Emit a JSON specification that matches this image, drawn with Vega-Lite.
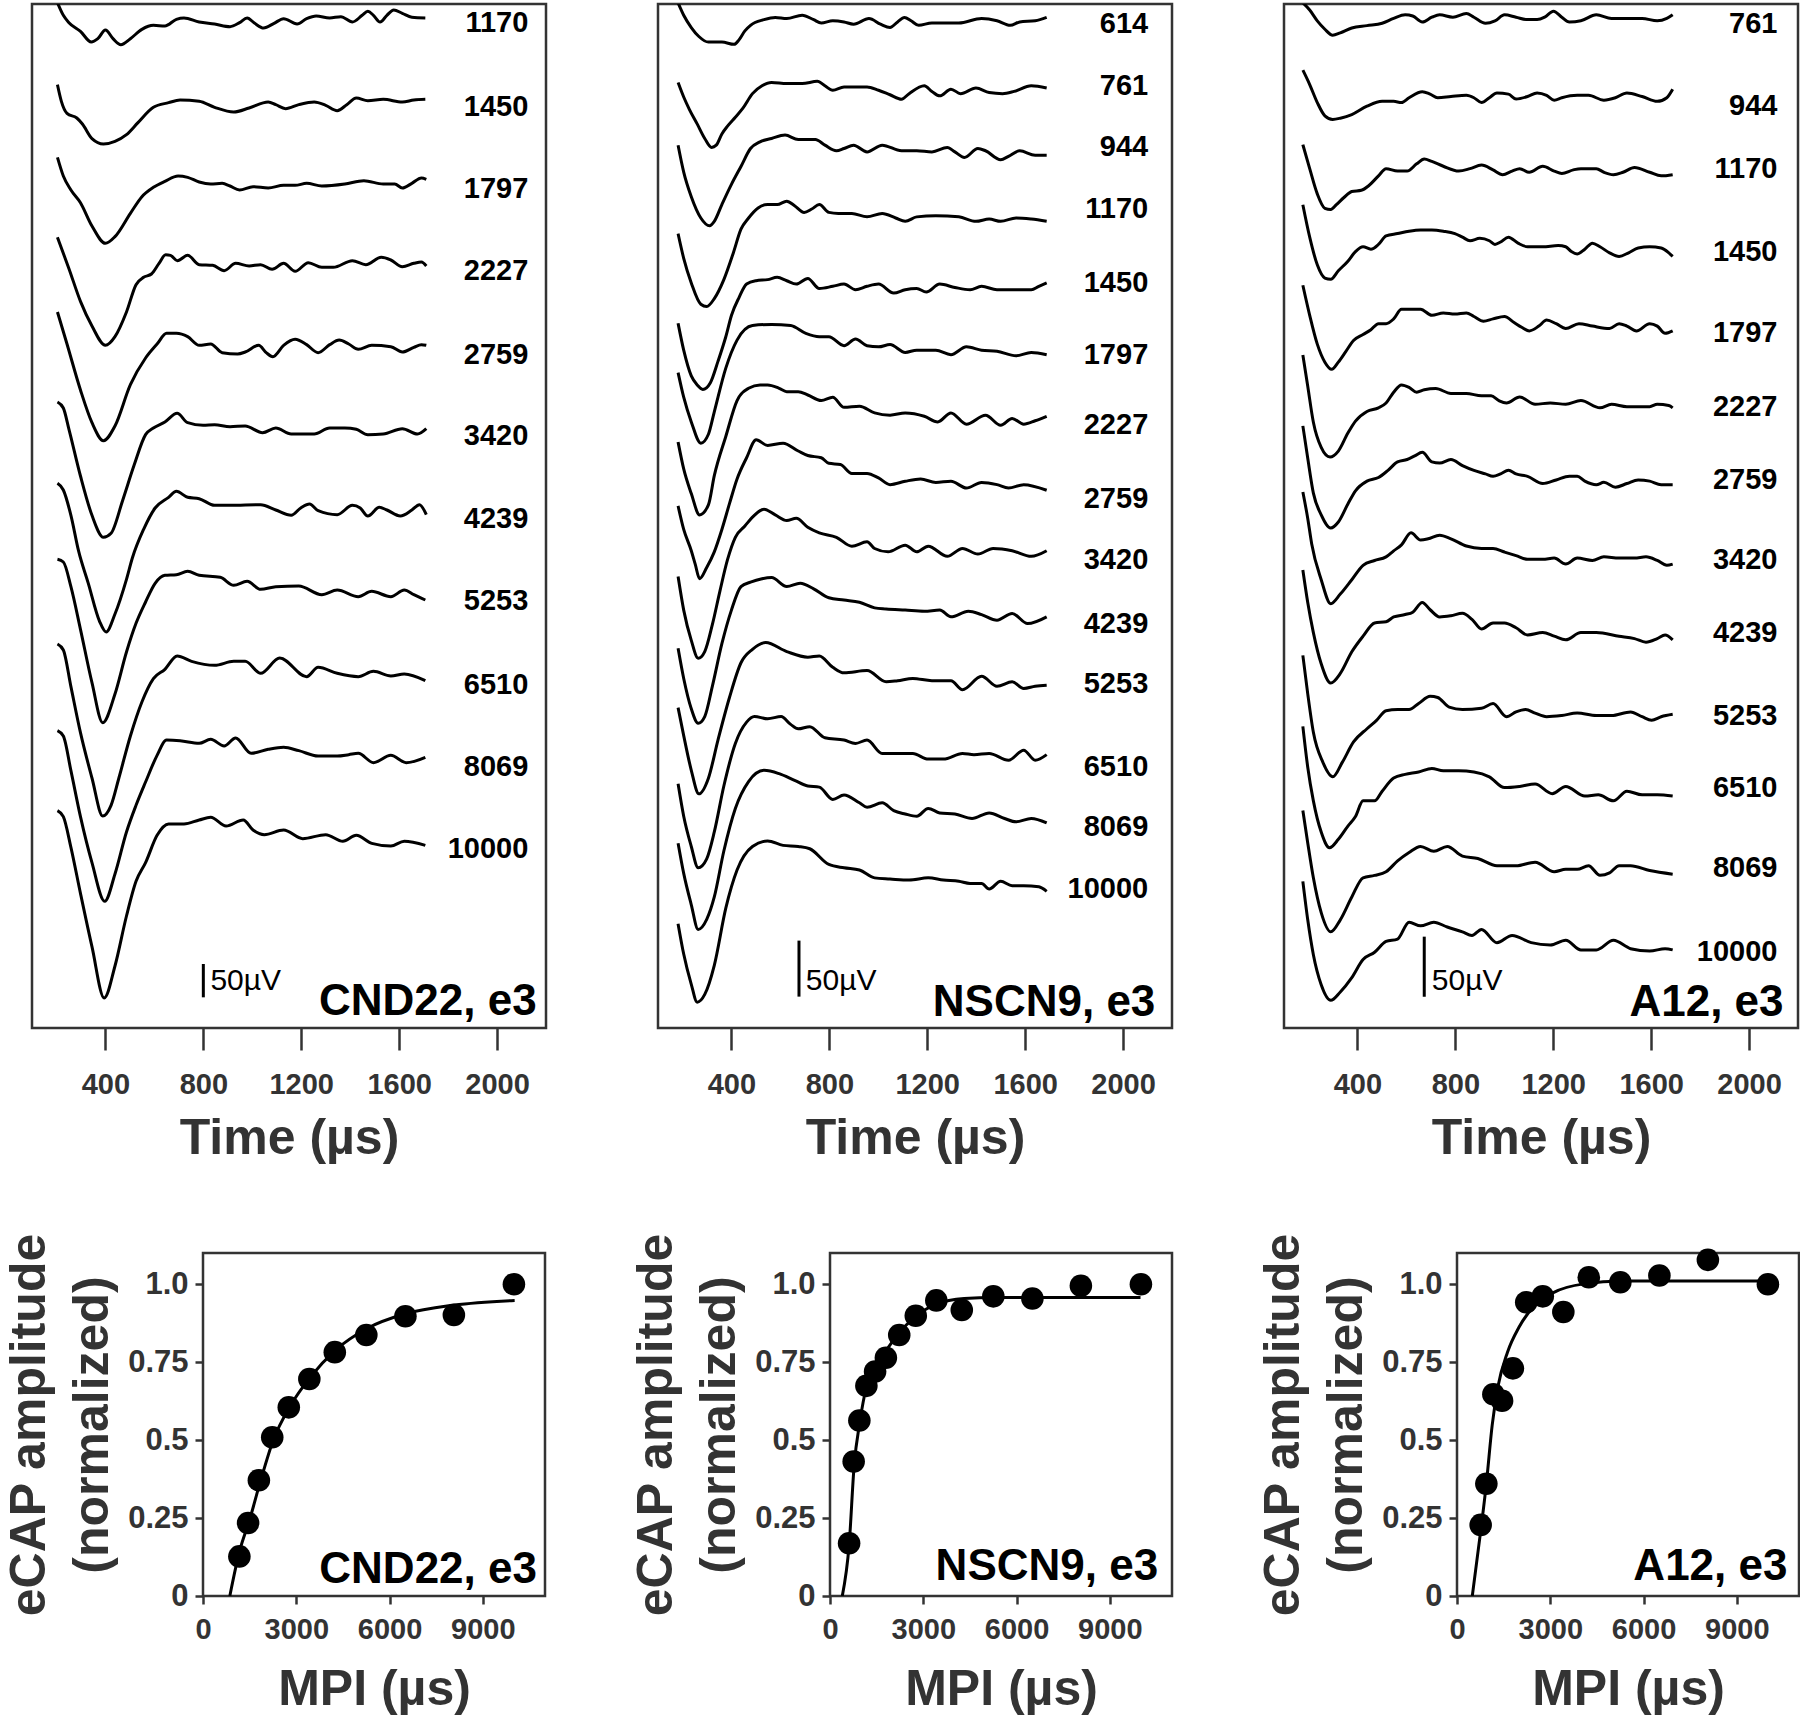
{
"$schema":"https://vega.github.io/schema/vega-lite/v6.json",
"background":"white",
"padding":{"left":3,"top":2,"right":0,"bottom":0},
"config":{
 "font":"Liberation Sans",
 "view":{"stroke":"#333333","strokeWidth":2.5},
 "axis":{"grid":false,"domain":false,"tickColor":"#333333","tickWidth":2.5,"labelColor":"#333333","labelFontWeight":"bold","labelFontSize":29,"labelFont":"Liberation Sans","titleColor":"#333333","titleFontWeight":"bold","titleFontSize":50,"titleFont":"Liberation Sans"}
},
"datasets":{
 "p1":[
  {"s":"1170","t":[204,228,251,298,342,369,400,431,463,502,549,596,643,690,721,783,846,909,948,979,1010,1046,1089,1128,1183,1222,1261,1316,1362,1409,1449,1472,1495,1522,1550,1578,1613,1652,1707],"v":[1538,1519,1508,1495,1479,1484,1497,1484,1475,1484,1498,1504,1503,1513,1515,1509,1506,1502,1508,1515,1507,1500,1507,1514,1506,1514,1518,1515,1517,1509,1519,1525,1519,1509,1519,1527,1522,1516,1515]},
  {"s":"1450","t":[204,220,243,283,306,345,392,439,486,533,596,658,705,783,846,924,987,1065,1096,1136,1190,1253,1300,1347,1386,1425,1472,1535,1613,1660,1707],"v":[1415,1390,1372,1365,1356,1334,1326,1330,1340,1358,1381,1388,1392,1390,1381,1374,1380,1389,1385,1379,1385,1389,1384,1376,1385,1395,1391,1393,1389,1392,1393]},
  {"s":"1797","t":[204,228,259,298,345,400,439,502,549,596,643,697,736,783,830,877,909,948,1003,1065,1128,1175,1222,1284,1378,1456,1535,1582,1613,1652,1691,1711],"v":[1306,1278,1257,1238,1203,1177,1187,1222,1247,1261,1270,1278,1276,1269,1266,1267,1263,1257,1262,1260,1264,1264,1267,1263,1266,1271,1266,1266,1260,1267,1275,1273]},
  {"s":"2227","t":[204,251,298,345,400,439,486,525,556,588,619,646,666,694,736,783,838,885,932,987,1034,1081,1128,1175,1229,1284,1331,1409,1464,1527,1566,1613,1660,1691,1711],"v":[1186,1139,1090,1053,1024,1037,1074,1115,1126,1131,1147,1160,1159,1151,1159,1145,1144,1136,1147,1143,1145,1138,1147,1135,1148,1141,1141,1151,1145,1156,1152,1142,1147,1149,1143]},
  {"s":"2759","t":[204,243,298,345,392,439,502,564,611,650,690,736,783,830,877,940,971,1026,1057,1084,1128,1175,1222,1269,1316,1355,1394,1433,1488,1566,1613,1660,1691,1711],"v":[1074,1026,957,908,881,903,965,1005,1026,1042,1042,1037,1024,1026,1013,1011,1014,1024,1013,1007,1024,1033,1025,1013,1025,1032,1026,1018,1024,1022,1014,1021,1025,1024]},
  {"s":"3420","t":[204,228,251,298,345,392,423,470,517,564,596,643,693,736,799,846,909,971,1042,1096,1159,1253,1316,1378,1425,1472,1535,1613,1675,1711],"v":[939,930,898,828,769,736,742,791,844,890,900,909,922,908,904,905,902,903,893,900,891,891,900,900,898,890,891,899,891,899]},
  {"s":"4239","t":[204,228,259,290,330,376,403,439,486,510,556,603,658,690,736,783,846,909,1034,1096,1159,1198,1234,1269,1347,1409,1441,1472,1519,1550,1605,1652,1683,1711],"v":[817,807,769,716,667,610,594,621,673,705,748,780,796,805,796,794,784,784,785,777,769,780,786,776,770,784,780,768,781,777,768,777,785,770]},
  {"s":"5253","t":[204,228,259,298,345,389,439,486,525,564,603,643,690,736,783,869,924,979,1034,1096,1190,1284,1347,1433,1488,1566,1621,1660,1707],"v":[703,699,662,598,518,458,501,564,607,639,667,679,680,685,679,676,664,670,658,662,663,650,657,647,655,647,657,650,642]},
  {"s":"6510","t":[204,228,259,298,345,389,423,455,502,549,596,643,693,752,846,924,971,1034,1112,1222,1269,1347,1433,1495,1566,1621,1707],"v":[576,567,512,443,375,318,334,375,438,489,524,538,558,550,544,550,550,532,555,527,541,532,527,535,528,531,521]},
  {"s":"8069","t":[204,228,259,298,345,397,439,486,525,564,611,650,705,783,830,885,932,995,1065,1128,1190,1269,1347,1394,1433,1495,1566,1629,1707],"v":[446,438,386,317,248,190,231,294,334,369,409,432,431,427,433,423,435,412,418,421,416,408,408,410,412,398,409,398,406]},
  {"s":"10000","t":[204,228,259,298,345,395,439,486,525,564,611,658,721,783,830,893,963,1003,1049,1128,1206,1300,1370,1425,1488,1566,1621,1707],"v":[326,317,271,202,122,45,93,168,220,248,289,306,306,312,316,303,312,297,290,297,284,290,280,289,277,273,280,274]}
 ],
 "l1":[{"s":"1170","t":2128,"v":1507},{"s":"1450","t":2128,"v":1382},{"s":"1797","t":2128,"v":1259},{"s":"2227","t":2128,"v":1136},{"s":"2759","t":2128,"v":1010},{"s":"3420","t":2128,"v":888},{"s":"4239","t":2128,"v":764},{"s":"5253","t":2128,"v":640},{"s":"6510","t":2128,"v":515},{"s":"8069","t":2128,"v":392},{"s":"10000","t":2128,"v":268}],
 "p2":[
  {"s":"614","t":[182,205,236,267,306,361,411,431,455,478,533,579,626,689,736,767,814,860,899,962,1009,1048,1079,1107,1134,1165,1219,1329,1422,1485,1539,1578,1641,1688],"v":[915,904,893,885,880,880,878,882,890,895,900,902,901,904,900,897,899,898,896,901,896,893,898,902,899,895,897,897,901,899,895,898,899,902]},
  {"s":"761","t":[182,205,228,260,291,319,338,361,384,416,447,486,525,564,626,689,751,782,814,860,954,1001,1048,1095,1126,1188,1219,1251,1297,1336,1399,1453,1508,1555,1625,1688],"v":[844,831,820,807,794,786,788,798,805,813,821,834,841,844,843,843,845,841,837,840,840,837,833,829,834,841,836,832,838,834,839,835,834,836,841,839]},
  {"s":"944","t":[182,205,236,275,311,330,361,400,439,478,517,564,619,673,743,782,829,860,899,954,1016,1095,1157,1219,1282,1313,1352,1407,1438,1500,1532,1578,1641,1688],"v":[788,764,742,723,716,720,735,753,769,785,791,794,797,793,793,788,783,785,788,782,788,783,783,782,786,782,777,785,783,775,778,783,779,779]},
  {"s":"1170","t":[182,205,236,275,299,330,369,408,439,470,509,548,587,626,658,697,728,759,798,837,892,954,1016,1071,1110,1157,1235,1329,1399,1453,1500,1563,1625,1688],"v":[709,687,665,646,644,651,668,692,713,723,732,735,735,738,734,728,731,735,728,727,727,724,727,723,720,724,725,724,720,722,720,723,722,720]},
  {"s":"1450","t":[182,205,236,260,283,314,345,377,400,431,462,501,548,587,626,665,712,759,814,860,907,954,1001,1063,1110,1157,1196,1251,1313,1375,1422,1485,1563,1625,1656,1688],"v":[629,605,582,574,570,576,595,617,636,652,664,667,668,670,667,664,669,660,662,664,659,662,664,656,659,660,657,664,661,659,662,659,659,659,662,665]},
  {"s":"1797","t":[182,205,236,275,306,330,377,423,486,564,642,704,759,798,860,907,954,1001,1048,1110,1157,1235,1297,1360,1422,1485,1563,1625,1688],"v":[585,563,541,522,530,550,589,614,627,628,627,620,617,617,609,615,609,608,610,603,605,605,601,608,605,604,600,603,601]},
  {"s":"2227","t":[182,205,236,270,306,330,377,423,470,517,548,595,626,673,712,767,814,860,923,985,1048,1110,1188,1243,1297,1360,1438,1500,1547,1594,1641,1688],"v":[523,499,477,458,467,493,528,560,571,574,574,571,568,568,565,560,563,554,555,549,547,549,546,541,549,539,547,538,544,539,542,546]},
  {"s":"2759","t":[182,205,236,252,270,299,330,361,392,423,462,501,548,611,673,712,767,798,845,892,954,1001,1048,1110,1173,1235,1297,1360,1422,1485,1532,1594,1688],"v":[466,445,426,414,401,411,425,445,468,490,509,525,520,522,515,511,509,504,503,495,495,491,485,488,490,487,488,482,487,485,482,485,480]},
  {"s":"3420","t":[182,205,236,264,291,322,353,384,416,455,486,533,579,626,665,712,759,829,892,954,985,1040,1110,1157,1204,1282,1344,1407,1469,1547,1625,1688],"v":[403,373,346,330,336,360,390,418,438,448,456,463,458,453,455,447,442,438,430,434,428,425,431,425,430,421,428,423,428,426,421,426]},
  {"s":"4239","t":[182,205,236,264,291,322,361,400,439,478,525,564,626,681,736,798,860,923,985,1032,1110,1188,1251,1297,1368,1422,1485,1547,1610,1688],"v":[339,312,285,272,278,305,343,373,394,398,401,402,394,397,392,384,382,380,375,374,373,372,373,367,372,369,364,370,361,367]},
  {"s":"5253","t":[182,205,236,267,306,345,392,439,486,540,626,712,759,814,860,954,1032,1079,1141,1219,1297,1344,1422,1485,1547,1594,1641,1688],"v":[286,261,230,209,223,257,295,326,338,344,336,331,332,322,317,319,309,310,312,310,310,302,314,305,309,303,305,306]},
  {"s":"6510","t":[182,205,236,264,299,330,369,416,462,494,548,603,642,673,720,782,860,907,954,1016,1079,1141,1204,1266,1344,1391,1453,1532,1594,1641,1688],"v":[218,189,162,143,151,175,216,254,273,278,276,278,271,267,269,259,257,254,257,245,245,245,240,240,245,244,245,239,248,239,244]},
  {"s":"8069","t":[182,205,236,264,299,330,369,416,470,533,595,658,712,759,814,860,923,954,1016,1063,1110,1157,1204,1251,1313,1383,1453,1516,1563,1625,1688],"v":[165,138,110,88,97,117,158,196,220,230,227,221,216,215,204,208,201,197,201,194,191,189,196,192,191,187,192,187,184,187,183]},
  {"s":"10000","t":[182,205,236,260,291,330,377,423,486,548,611,673,720,798,860,923,985,1048,1126,1204,1266,1329,1375,1422,1453,1500,1547,1594,1656,1688],"v":[93,66,39,23,30,56,107,141,162,167,163,162,160,146,143,141,134,133,132,134,132,131,129,129,124,131,127,127,126,122]}
 ],
 "l2":[{"s":"614","t":2103,"v":896},{"s":"761","t":2103,"v":841},{"s":"944","t":2103,"v":786},{"s":"1170","t":2103,"v":731},{"s":"1450","t":2103,"v":665},{"s":"1797","t":2103,"v":601},{"s":"2227","t":2103,"v":538},{"s":"2759","t":2103,"v":472},{"s":"3420","t":2103,"v":418},{"s":"4239","t":2103,"v":361},{"s":"5253","t":2103,"v":307},{"s":"6510","t":2103,"v":233},{"s":"8069","t":2103,"v":179},{"s":"10000","t":2103,"v":124}],
 "p3":[
  {"s":"761","t":[177,205,236,267,299,330,377,439,501,548,595,626,665,704,736,790,845,876,923,962,1001,1048,1095,1134,1165,1201,1235,1266,1313,1376,1438,1469,1563,1625,1664,1688],"v":[853,847,838,831,826,828,832,834,836,840,843,842,837,841,843,841,844,841,836,838,843,841,839,839,841,846,841,837,838,843,840,840,840,838,840,843]},
  {"s":"944","t":[177,205,236,267,299,330,377,439,501,548,580,611,665,697,728,782,845,876,907,939,970,1017,1048,1095,1134,1173,1204,1235,1298,1344,1407,1454,1501,1563,1625,1664,1688],"v":[797,785,770,759,756,757,760,767,771,771,770,774,779,777,774,775,776,774,770,774,778,777,773,775,778,776,772,774,776,776,772,774,778,775,771,774,781]},
  {"s":"1170","t":[177,205,236,267,291,314,345,377,416,447,486,517,564,603,642,673,704,751,814,860,907,954,993,1032,1063,1102,1157,1204,1235,1282,1313,1376,1407,1446,1485,1532,1594,1641,1688],"v":[735,715,694,682,681,685,691,696,697,701,709,715,713,713,719,723,721,717,713,715,718,714,710,713,715,712,717,713,711,714,715,715,712,710,712,716,712,709,710]},
  {"s":"1450","t":[177,205,236,267,291,322,361,392,423,455,486,517,564,611,658,704,751,798,829,860,900,939,962,985,1017,1056,1095,1157,1220,1251,1274,1298,1329,1360,1391,1430,1469,1508,1547,1594,1641,1672,1688],"v":[685,658,635,624,623,630,638,646,650,648,652,659,661,663,664,664,663,661,658,655,657,655,652,654,658,653,650,650,651,650,646,644,648,653,650,645,642,645,649,650,649,645,642]},
  {"s":"1797","t":[177,205,236,267,295,322,353,384,423,455,486,517,548,580,611,658,704,751,798,845,876,915,954,1001,1040,1071,1102,1141,1173,1212,1251,1305,1360,1430,1469,1501,1540,1594,1625,1657,1688],"v":[618,593,569,554,548,554,563,572,577,581,586,586,590,598,598,598,593,595,594,595,592,588,590,592,587,583,580,584,589,586,582,586,584,582,586,584,580,586,584,578,580]},
  {"s":"2227","t":[177,197,220,252,288,322,361,392,439,486,517,548,580,611,642,673,720,782,845,907,946,978,1009,1063,1126,1188,1251,1313,1391,1438,1501,1594,1625,1672,1688],"v":[560,534,504,483,475,480,495,505,513,516,520,529,535,533,529,531,532,528,528,526,526,522,520,525,519,520,519,522,516,519,517,517,519,518,516]},
  {"s":"2759","t":[177,197,220,252,291,322,361,392,439,486,525,564,603,634,665,704,736,782,829,876,923,954,985,1017,1048,1095,1157,1212,1266,1298,1329,1376,1407,1454,1501,1547,1594,1641,1688],"v":[501,474,445,427,416,421,436,447,455,458,464,471,473,476,479,471,470,473,468,464,461,459,461,464,461,459,453,456,459,459,455,452,454,450,453,456,455,452,452]},
  {"s":"3420","t":[177,197,213,252,291,330,377,423,470,517,548,580,619,658,689,736,782,845,907,954,1001,1048,1095,1157,1204,1251,1298,1360,1407,1469,1532,1579,1625,1664,1688],"v":[446,424,403,373,353,361,373,385,389,392,397,402,412,406,407,410,407,401,399,399,396,393,390,390,391,386,391,389,392,391,391,392,389,385,386]},
  {"s":"4239","t":[177,197,220,252,291,330,377,423,470,517,548,595,626,665,697,736,782,829,868,907,954,1001,1048,1095,1157,1204,1251,1313,1376,1469,1532,1579,1625,1657,1688],"v":[381,354,329,303,287,295,313,326,337,338,342,344,346,354,348,342,343,345,340,332,337,337,333,327,329,326,323,329,329,326,324,321,324,327,323]},
  {"s":"5253","t":[177,197,220,259,299,338,384,439,478,517,564,611,650,697,728,775,829,907,954,1009,1048,1087,1126,1173,1235,1298,1376,1438,1516,1563,1602,1641,1688],"v":[310,278,246,221,209,221,238,249,256,264,265,265,270,276,275,267,265,266,270,259,263,265,262,259,260,262,260,260,263,259,256,259,261]},
  {"s":"6510","t":[177,197,220,252,286,322,361,392,423,470,501,548,595,650,704,751,814,876,939,1001,1063,1126,1196,1251,1329,1384,1446,1501,1563,1625,1688],"v":[251,217,189,163,150,157,168,176,189,189,197,208,211,213,216,214,214,213,209,200,201,203,195,201,193,194,189,197,194,194,193]},
  {"s":"8069","t":[177,197,220,252,291,330,377,423,470,517,564,611,658,712,767,829,892,970,1048,1126,1204,1251,1298,1344,1391,1430,1469,1516,1594,1688],"v":[181,154,125,96,80,90,109,125,127,130,139,146,151,147,151,143,141,135,135,138,130,132,132,135,127,129,135,135,131,128]},
  {"s":"10000","t":[177,197,220,252,291,330,377,423,470,517,564,611,658,712,767,829,868,907,970,1032,1110,1188,1251,1313,1376,1446,1516,1594,1657,1688],"v":[122,90,61,36,23,30,42,57,63,72,74,88,85,88,84,80,77,82,71,77,71,69,73,65,65,73,66,64,66,65]}
 ],
 "l3":[{"s":"761","t":2116,"v":835},{"s":"944","t":2116,"v":767},{"s":"1170","t":2116,"v":715},{"s":"1450","t":2116,"v":646},{"s":"1797","t":2116,"v":578},{"s":"2227","t":2116,"v":517},{"s":"2759","t":2116,"v":456},{"s":"3420","t":2116,"v":389},{"s":"4239","t":2116,"v":329},{"s":"5253","t":2116,"v":260},{"s":"6510","t":2116,"v":200},{"s":"8069","t":2116,"v":133},{"s":"10000","t":2116,"v":63}],
 "b1":[{"m":1170,"a":0.127},{"m":1450,"a":0.234},{"m":1797,"a":0.371},{"m":2227,"a":0.509},{"m":2759,"a":0.605},{"m":3420,"a":0.696},{"m":4239,"a":0.782},{"m":5253,"a":0.837},{"m":6510,"a":0.897},{"m":8069,"a":0.901},{"m":10000,"a":1.0}],
 "f1":[{"m":863,"a":0},{"m":1171,"a":0.142},{"m":1504,"a":0.246},{"m":1850,"a":0.369},{"m":2256,"a":0.499},{"m":2811,"a":0.61},{"m":3452,"a":0.702},{"m":4254,"a":0.788},{"m":5277,"a":0.858},{"m":6510,"a":0.905},{"m":8076,"a":0.933},{"m":10024,"a":0.948}],
 "b2":[{"m":614,"a":0.169},{"m":761,"a":0.431},{"m":944,"a":0.563},{"m":1170,"a":0.674},{"m":1450,"a":0.72},{"m":1797,"a":0.764},{"m":2227,"a":0.837},{"m":2759,"a":0.899},{"m":3420,"a":0.948},{"m":4239,"a":0.917},{"m":5253,"a":0.961},{"m":6510,"a":0.954},{"m":8069,"a":0.995},{"m":10000,"a":1.0}],
 "f2":[{"m":395,"a":0},{"m":617,"a":0.166},{"m":777,"a":0.419},{"m":962,"a":0.56},{"m":1171,"a":0.671},{"m":1480,"a":0.745},{"m":1850,"a":0.794},{"m":2219,"a":0.844},{"m":2713,"a":0.893},{"m":3415,"a":0.936},{"m":4316,"a":0.954},{"m":5302,"a":0.957},{"m":9987,"a":0.957}],
 "b3":[{"m":761,"a":0.228},{"m":944,"a":0.36},{"m":1170,"a":0.647},{"m":1450,"a":0.626},{"m":1797,"a":0.73},{"m":2227,"a":0.942},{"m":2759,"a":0.961},{"m":3420,"a":0.911},{"m":4239,"a":1.022},{"m":5253,"a":1.006},{"m":6510,"a":1.028},{"m":8069,"a":1.078},{"m":10000,"a":1.0}],
 "f3":[{"m":492,"a":0},{"m":787,"a":0.228},{"m":947,"a":0.363},{"m":1132,"a":0.548},{"m":1316,"a":0.671},{"m":1624,"a":0.782},{"m":1993,"a":0.862},{"m":2485,"a":0.93},{"m":3100,"a":0.973},{"m":4084,"a":1.001},{"m":5314,"a":1.01},{"m":9988,"a":1.01}]
},
"vconcat":[
 {"hconcat":[
  {"width":514,"height":1024,
   "encoding":{"x":{"field":"t","type":"quantitative","scale":{"domain":[100,2200],"nice":false,"zero":false},"axis":{"values":[400,800,1200,1600,2000],"format":"d","title":"Time (µs)","tickSize":22,"labelPadding":20,"titlePadding":14,"labelFlush":false}},
               "y":{"field":"v","type":"quantitative","scale":{"domain":[0,1536],"nice":false,"zero":false},"axis":null}},
   "layer":[
    {"data":{"name":"p1"},"transform":[{"flatten":["t","v"]}],"mark":{"type":"line","interpolate":"monotone","strokeWidth":3,"color":"black","clip":true},"encoding":{"detail":{"field":"s","type":"nominal"}}},
    {"data":{"name":"l1"},"mark":{"type":"text","align":"right","baseline":"middle","fontSize":29,"fontWeight":"bold","color":"black"},"encoding":{"text":{"field":"s","type":"nominal"}}},
    {"data":{"values":[{"t":800,"v":46,"v2":96}]},"mark":{"type":"rule","strokeWidth":3,"color":"black"},"encoding":{"y2":{"field":"v2"}}},
    {"data":{"values":[{"t":829,"v":70,"s":"50µV"}]},"mark":{"type":"text","align":"left","baseline":"middle","fontSize":30,"color":"black"},"encoding":{"text":{"field":"s","type":"nominal"}}},
    {"data":{"values":[{"t":2162,"v":19,"s":"CND22, e3"}]},"mark":{"type":"text","align":"right","baseline":"alphabetic","fontSize":44,"fontWeight":"bold","color":"black"},"encoding":{"text":{"field":"s","type":"nominal"}}}
   ]},
  {"width":514,"height":1024,
   "encoding":{"x":{"field":"t","type":"quantitative","scale":{"domain":[100,2200],"nice":false,"zero":false},"axis":{"values":[400,800,1200,1600,2000],"format":"d","title":"Time (µs)","tickSize":22,"labelPadding":20,"titlePadding":14,"labelFlush":false}},
               "y":{"field":"v","type":"quantitative","scale":{"domain":[0,914],"nice":false,"zero":false},"axis":null}},
   "layer":[
    {"data":{"name":"p2"},"transform":[{"flatten":["t","v"]}],"mark":{"type":"line","interpolate":"monotone","strokeWidth":3,"color":"black","clip":true},"encoding":{"detail":{"field":"s","type":"nominal"}}},
    {"data":{"name":"l2"},"mark":{"type":"text","align":"right","baseline":"middle","fontSize":29,"fontWeight":"bold","color":"black"},"encoding":{"text":{"field":"s","type":"nominal"}}},
    {"data":{"values":[{"t":676,"v":28,"v2":78}]},"mark":{"type":"rule","strokeWidth":3,"color":"black"},"encoding":{"y2":{"field":"v2"}}},
    {"data":{"values":[{"t":704,"v":42,"s":"50µV"}]},"mark":{"type":"text","align":"left","baseline":"middle","fontSize":30,"color":"black"},"encoding":{"text":{"field":"s","type":"nominal"}}},
    {"data":{"values":[{"t":2132,"v":11,"s":"NSCN9, e3"}]},"mark":{"type":"text","align":"right","baseline":"alphabetic","fontSize":44,"fontWeight":"bold","color":"black"},"encoding":{"text":{"field":"s","type":"nominal"}}}
   ]},
  {"width":514,"height":1024,
   "encoding":{"x":{"field":"t","type":"quantitative","scale":{"domain":[100,2200],"nice":false,"zero":false},"axis":{"values":[400,800,1200,1600,2000],"format":"d","title":"Time (µs)","tickSize":22,"labelPadding":20,"titlePadding":14,"labelFlush":false}},
               "y":{"field":"v","type":"quantitative","scale":{"domain":[0,852],"nice":false,"zero":false},"axis":null}},
   "layer":[
    {"data":{"name":"p3"},"transform":[{"flatten":["t","v"]}],"mark":{"type":"line","interpolate":"monotone","strokeWidth":3,"color":"black","clip":true},"encoding":{"detail":{"field":"s","type":"nominal"}}},
    {"data":{"name":"l3"},"mark":{"type":"text","align":"right","baseline":"middle","fontSize":29,"fontWeight":"bold","color":"black"},"encoding":{"text":{"field":"s","type":"nominal"}}},
    {"data":{"values":[{"t":673,"v":26,"v2":76}]},"mark":{"type":"rule","strokeWidth":3,"color":"black"},"encoding":{"y2":{"field":"v2"}}},
    {"data":{"values":[{"t":704,"v":39,"s":"50µV"}]},"mark":{"type":"text","align":"left","baseline":"middle","fontSize":30,"color":"black"},"encoding":{"text":{"field":"s","type":"nominal"}}},
    {"data":{"values":[{"t":2141,"v":10,"s":"A12, e3"}]},"mark":{"type":"text","align":"right","baseline":"alphabetic","fontSize":44,"fontWeight":"bold","color":"black"},"encoding":{"text":{"field":"s","type":"nominal"}}}
   ]}
 ],"spacing":112,"bounds":"flush","resolve":{"scale":{"x":"independent","y":"independent"}}},
 {"hconcat":[
  {"width":171,"height":343,"view":{"stroke":null},"data":{"values":[{}]},"mark":{"type":"point","opacity":0},"encoding":{}},
  {"hconcat":[
   {"width":342,"height":343,
    "encoding":{"x":{"field":"m","type":"quantitative","scale":{"domain":[0,11000],"nice":false},"axis":{"values":[0,3000,6000,9000],"format":"d","title":"MPI (µs)","tickSize":8,"labelPadding":11,"titlePadding":20,"labelFlush":false}},
                "y":{"field":"a","type":"quantitative","scale":{"domain":[0,1.1],"nice":false},"axis":{"values":[0,0.25,0.5,0.75,1],"labelExpr":"datum.value == 1 ? '1.0' : '' + datum.value","labelFontSize":31,"title":["eCAP amplitude","(normalized)"],"tickSize":8,"labelPadding":7,"titlePadding":10,"titleLineHeight":63,"labelFlush":false}}},
    "layer":[
     {"data":{"name":"f1"},"mark":{"type":"line","interpolate":"monotone","strokeWidth":3,"color":"black","clip":true},"encoding":{}},
     {"data":{"name":"b1"},"mark":{"type":"circle","size":510,"color":"black","opacity":1},"encoding":{}},
     {"data":{"values":[{"m":10742,"a":0.043,"s":"CND22, e3"}]},"mark":{"type":"text","align":"right","baseline":"alphabetic","fontSize":44,"fontWeight":"bold","color":"black"},"encoding":{"text":{"field":"s","type":"nominal"}}}
    ]},
   {"width":342,"height":343,
    "encoding":{"x":{"field":"m","type":"quantitative","scale":{"domain":[0,11000],"nice":false},"axis":{"values":[0,3000,6000,9000],"format":"d","title":"MPI (µs)","tickSize":8,"labelPadding":11,"titlePadding":20,"labelFlush":false}},
                "y":{"field":"a","type":"quantitative","scale":{"domain":[0,1.1],"nice":false},"axis":{"values":[0,0.25,0.5,0.75,1],"labelExpr":"datum.value == 1 ? '1.0' : '' + datum.value","labelFontSize":31,"title":["eCAP amplitude","(normalized)"],"tickSize":8,"labelPadding":7,"titlePadding":10,"titleLineHeight":63,"labelFlush":false}}},
    "layer":[
     {"data":{"name":"f2"},"mark":{"type":"line","interpolate":"monotone","strokeWidth":3,"color":"black","clip":true},"encoding":{}},
     {"data":{"name":"b2"},"mark":{"type":"circle","size":510,"color":"black","opacity":1},"encoding":{}},
     {"data":{"values":[{"m":10555,"a":0.05,"s":"NSCN9, e3"}]},"mark":{"type":"text","align":"right","baseline":"alphabetic","fontSize":44,"fontWeight":"bold","color":"black"},"encoding":{"text":{"field":"s","type":"nominal"}}}
    ]},
   {"width":342,"height":343,
    "encoding":{"x":{"field":"m","type":"quantitative","scale":{"domain":[0,11000],"nice":false},"axis":{"values":[0,3000,6000,9000],"format":"d","title":"MPI (µs)","tickSize":8,"labelPadding":11,"titlePadding":20,"labelFlush":false}},
                "y":{"field":"a","type":"quantitative","scale":{"domain":[0,1.1],"nice":false},"axis":{"values":[0,0.25,0.5,0.75,1],"labelExpr":"datum.value == 1 ? '1.0' : '' + datum.value","labelFontSize":31,"title":["eCAP amplitude","(normalized)"],"tickSize":8,"labelPadding":7,"titlePadding":10,"titleLineHeight":63,"labelFlush":false}}},
    "layer":[
     {"data":{"name":"f3"},"mark":{"type":"line","interpolate":"monotone","strokeWidth":3,"color":"black","clip":true},"encoding":{}},
     {"data":{"name":"b3"},"mark":{"type":"circle","size":510,"color":"black","opacity":1},"encoding":{}},
     {"data":{"values":[{"m":10629,"a":0.05,"s":"A12, e3"}]},"mark":{"type":"text","align":"right","baseline":"alphabetic","fontSize":44,"fontWeight":"bold","color":"black"},"encoding":{"text":{"field":"s","type":"nominal"}}}
    ]}
  ],"spacing":285,"bounds":"flush"}
 ],"spacing":0,"bounds":"flush"}
],
"spacing":66
}
